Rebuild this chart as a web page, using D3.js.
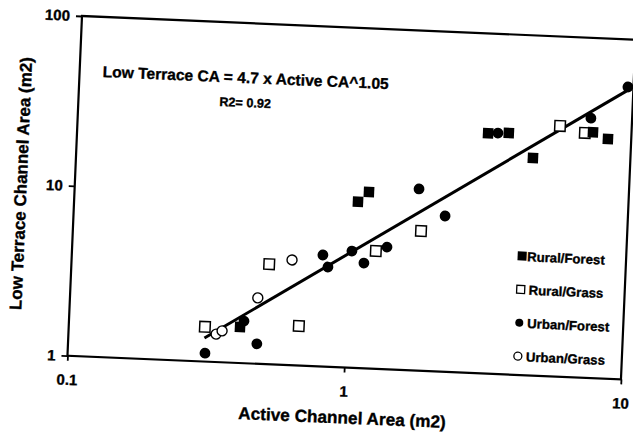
<!DOCTYPE html>
<html>
<head>
<meta charset="utf-8">
<script src="https://cdn.jsdelivr.net/npm/d3@7"></script>
<style>
  body { margin: 0; background: #fff; }
  text { font-family: "Liberation Sans", Arial, sans-serif; font-weight: bold; fill: #000; stroke: #000; stroke-width: 0.35px; }
</style>
</head>
<body>
<svg id="chart"></svg>
<script>
// Data (x = active channel area, y = low terrace area)
const ruralForest = [[0.415, 1.63], [1.057, 9.5], [1.154, 10.9], [3.04, 25.9], [3.61, 26.3], [4.45, 19.0], [7.26, 27.9], [8.24, 25.7]];
const ruralGrass = [[0.31, 1.6], [0.517, 3.88], [0.676, 1.71], [1.248, 4.93], [1.803, 6.63], [5.51, 29.8], [6.79, 27.5]];
const urbanForest = [[0.313, 1.12], [0.428, 1.77], [0.48, 1.31], [0.805, 4.53], [0.843, 3.86], [1.023, 4.86], [1.135, 4.16],
  [1.367, 5.23], [1.747, 11.7], [2.19, 8.24], [3.30, 26.1], [7.10, 33.7], [9.55, 52.5]];
const urbanGrass = [[0.341, 1.46], [0.358, 1.53], [0.476, 2.44], [0.624, 4.16]];

const fitCoef = 4.7, fitExp = 1.05;
const fitRange = [0.31, 9.6];

const xTicks = [0.1, 1, 10];
const yTicks = [1, 10, 100];
const legendLabels = ['Rural/Forest', 'Rural/Grass', 'Urban/Forest', 'Urban/Grass'];

let containerWidth = 633, containerHeight = 433;
let origin = { x: 82, y: 16 };
let angle = 2.45; // the scan is tilted a little
let width = 554, height = 340;

let svg = d3.select('#chart')
  .attr('width', containerWidth)
  .attr('height', containerHeight);

svg.append('rect')
  .attr('width', containerWidth)
  .attr('height', containerHeight)
  .attr('fill', '#fff');

let chart = svg.append('g')
  .attr('transform', `translate(${origin.x}, ${origin.y}) rotate(${angle})`);

let x = d3.scaleLog().domain([0.1, 10]).range([0, width]);
let y = d3.scaleLog().domain([1, 100]).range([height, 0]);

// Axes
let xAxisGroup = chart.append('g')
  .attr('transform', `translate(0, ${height})`)
  .call(d3.axisBottom(x).tickValues(xTicks).tickFormat((d) => String(d)).tickSize(5).tickPadding(13.5));

let yAxisGroup = chart.append('g')
  .call(d3.axisLeft(y).tickValues(yTicks).tickFormat((d) => String(d)).tickSize(6).tickPadding(6));

[xAxisGroup, yAxisGroup].forEach((g) => {
  g.select('.domain').remove();
  g.selectAll('line').attr('stroke', '#000').attr('stroke-width', 1.8);
  g.selectAll('text')
    .style('font-family', '"Liberation Sans", Arial, sans-serif')
    .style('font-weight', 'bold')
    .style('font-size', '15px')
    .attr('fill', '#000');
});

// Frame
chart.append('rect')
  .attr('width', width)
  .attr('height', height)
  .attr('fill', 'none')
  .attr('stroke', '#000')
  .attr('stroke-width', 2.2);

// Axis titles
chart.append('text')
  .attr('x', width / 2)
  .attr('y', 396)
  .attr('text-anchor', 'middle')
  .style('font-size', '17.2px')
  .text('Active Channel Area (m2)');

chart.append('text')
  .attr('transform', `translate(-48, ${height / 2}) rotate(-90)`)
  .attr('text-anchor', 'middle')
  .style('font-size', '17px')
  .text('Low Terrace Channel Area (m2)');

// Equation
chart.append('text')
  .attr('x', 23)
  .attr('y', 60)
  .style('font-size', '15.6px')
  .text('Low Terrace CA = 4.7 x Active CA^1.05');

chart.append('text')
  .attr('x', 141)
  .attr('y', 84)
  .style('font-size', '12.6px')
  .text('R2= 0.92');

// Trend line
let fitLine = d3.line()
  .x((d) => x(d))
  .y((d) => y(fitCoef * Math.pow(d, fitExp)));

chart.append('path')
  .datum(fitRange)
  .attr('fill', 'none')
  .attr('stroke', '#000')
  .attr('stroke-width', 3)
  .attr('d', fitLine);

// Markers
let sq = 10.5, rad = 5;

function squares(data, filled) {
  chart.append('g').selectAll('rect')
    .data(data)
    .enter().append('rect')
      .attr('x', (d) => x(d[0]) - sq / 2)
      .attr('y', (d) => y(d[1]) - sq / 2)
      .attr('width', sq)
      .attr('height', sq)
      .attr('fill', filled ? '#000' : '#fff')
      .attr('stroke', '#000')
      .attr('stroke-width', filled ? 0 : 1.5);
}

function circles(data, filled) {
  chart.append('g').selectAll('circle')
    .data(data)
    .enter().append('circle')
      .attr('cx', (d) => x(d[0]))
      .attr('cy', (d) => y(d[1]))
      .attr('r', filled ? rad + 0.4 : rad)
      .attr('fill', filled ? '#000' : '#fff')
      .attr('stroke', '#000')
      .attr('stroke-width', filled ? 0 : 1.4);
}

circles(urbanGrass, false);
squares(ruralGrass, false);
circles(urbanForest, true);
squares(ruralForest, true);

// Legend
let legend = chart.append('g')
  .attr('transform', 'translate(450, 221)');

let legendItems = legend.selectAll('g')
  .data(legendLabels)
  .enter().append('g')
    .attr('transform', (d, i) => `translate(0, ${i * 33.4})`);

legendItems.each(function(d, i) {
  let g = d3.select(this);
  if (i < 2) {
    let s = i === 0 ? 9 : 8;
    g.append('rect')
      .attr('x', -s / 2)
      .attr('y', -s / 2)
      .attr('width', s)
      .attr('height', s)
      .attr('fill', i === 0 ? '#000' : '#fff')
      .attr('stroke', '#000')
      .attr('stroke-width', i === 0 ? 0 : 1.3);
  } else {
    g.append('circle')
      .attr('r', 4)
      .attr('fill', i === 2 ? '#000' : '#fff')
      .attr('stroke', '#000')
      .attr('stroke-width', i === 2 ? 0 : 1.3);
  }
  g.append('text')
    .attr('x', i === 0 ? 5 : 8)
    .attr('y', 5)
    .style('font-size', '13.2px')
    .text(d);
});
</script>
</body>
</html>
